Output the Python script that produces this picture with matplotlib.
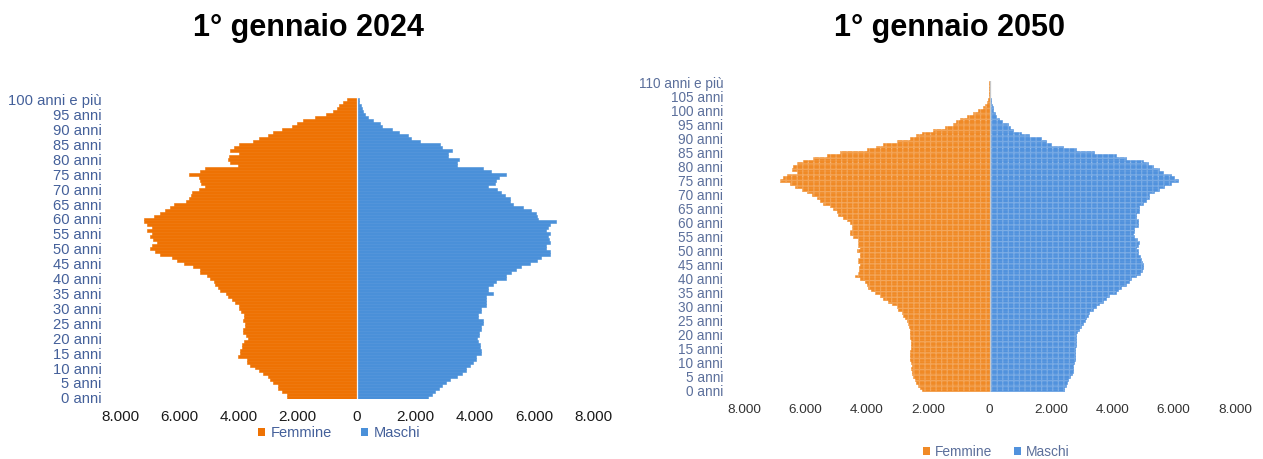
import matplotlib
matplotlib.use("Agg")
import matplotlib.pyplot as plt
import numpy as np
from matplotlib.patches import Patch

plt.rcParams["font.family"] = ["Liberation Sans", "DejaVu Sans"]
plt.rcParams["hatch.linewidth"] = 0.9

# ---- 1 gennaio 2024: età 0 .. 100 e più ----
eta_2024 = list(range(0, 101))
femmine_2024 = [
    2340, 2360, 2530, 2640, 2640, 2810, 2920, 3000, 3150, 3300,
    3430, 3600, 3710, 3710, 4025, 3935, 3935, 3880, 3880, 3800,
    3655, 3750, 3845, 3845, 3765, 3765, 3825, 3800, 3800, 3900,
    3990, 3990, 4105, 4215, 4330, 4410, 4610, 4700, 4780, 4835,
    4950, 5060, 5290, 5290, 5535, 5850, 6075, 6245, 6640, 6805,
    6975, 6920, 6750, 6900, 6975, 6920, 7090, 6920, 7090, 7180,
    7180, 6860, 6640, 6470, 6300, 6190, 5760, 5650, 5600, 5570,
    5340, 5120, 5250, 5290, 5340, 5680, 5290, 5120, 4000, 4270,
    4360, 4300, 3960, 4270, 4160, 3960, 3485, 3300, 2980, 2810,
    2530, 2190, 2000, 1800, 1400, 1030, 805, 670, 580, 445,
    330,
]
maschi_2024 = [
    2427, 2539, 2652, 2798, 2877, 3023, 3158, 3384, 3553, 3699,
    3699, 3834, 3947, 4037, 4037, 4228, 4228, 4172, 4172, 4116,
    4060, 4150, 4150, 4228, 4228, 4285, 4285, 4116, 4116, 4228,
    4228, 4375, 4375, 4397, 4397, 4623, 4454, 4454, 4623, 4735,
    5050, 5072, 5241, 5388, 5579, 5861, 6120, 6255, 6559, 6559,
    6424, 6424, 6536, 6500, 6480, 6536, 6424, 6480, 6560, 6762,
    6143, 6110, 6086, 5917, 5636, 5298, 5185, 5208, 5016, 4900,
    4757, 4454, 4679, 4735, 4825, 5050, 4566, 4285, 3384, 3384,
    3474, 3102, 3102, 3215, 2877, 2821, 2145, 1830, 1751, 1447,
    1188, 873, 794, 569, 377, 287, 231, 186, 141, 96,
    80,
]

# ---- 1 gennaio 2050: età 0 .. 110 e più ----
eta_2050 = list(range(0, 111))
femmine_2050 = [
    2209, 2250, 2319, 2400, 2426, 2480, 2534, 2534, 2550, 2534,
    2560, 2589, 2589, 2589, 2589, 2567, 2567, 2567, 2567, 2580,
    2589, 2589, 2589, 2620, 2645, 2700, 2760, 2807, 2860, 2970,
    3023, 3186, 3296, 3458, 3566, 3729, 3850, 3947, 4000, 4055,
    4218, 4381, 4300, 4240, 4240, 4218, 4272, 4272, 4218, 4218,
    4305, 4218, 4272, 4272, 4300, 4435, 4543, 4543, 4489, 4489,
    4543, 4652, 4761, 4924, 4978, 5100, 5195, 5412, 5521, 5629,
    5800, 5955, 6118, 6335, 6498, 6823, 6715, 6606, 6281, 6444,
    6390, 6281, 6064, 5738, 5303, 4869, 4000, 3700, 3458, 3023,
    2589, 2400, 2209, 1829, 1449, 1178, 1100, 961, 744, 527,
    364, 200, 140, 92, 55, 30, 15, 8, 4, 2,
    3,
]
maschi_2050 = [
    2443, 2443, 2480, 2519, 2570, 2627, 2680, 2736, 2736, 2736,
    2750, 2780, 2801, 2801, 2801, 2801, 2810, 2823, 2823, 2823,
    2823, 2860, 2931, 2980, 3040, 3100, 3148, 3200, 3257, 3370,
    3474, 3580, 3691, 3800, 3908, 4125, 4200, 4288, 4451, 4530,
    4614, 4777, 4900, 4972, 4994, 4994, 4960, 4940, 4900, 4831,
    4831, 4777, 4850, 4886, 4800, 4700, 4669, 4700, 4723, 4831,
    4831, 4850, 4777, 4777, 4886, 4886, 4886, 4994, 5103, 5211,
    5211, 5374, 5537, 5700, 5917, 6150, 6000, 5917, 5646, 5537,
    5320, 5150, 4994, 4451, 4125, 3420, 2823, 2389, 2008, 1850,
    1683, 1303, 1031, 760, 680, 597, 413, 304, 217, 180,
    130, 110, 87, 60, 33, 15, 8, 5, 3, 2,
    2,
]

valori_x = [-8000, -6000, -4000, -2000, 0, 2000, 4000, 6000, 8000]
etichette_x = ["8.000", "6.000", "4.000", "2.000", "0", "2.000", "4.000", "6.000", "8.000"]


def etichette_eta(eta_max):
    valori = list(range(0, eta_max + 1, 5))
    testi = [f"{v} anni" for v in valori]
    testi[-1] = f"{eta_max} anni e più"
    return valori, testi


def piramide(ax, eta, fem, mas, col_f, col_m, ylab_col, xlab_col,
             ylab_size, xlab_size, ypad, xpad, retino=False, asse_col="white"):
    eta = np.asarray(eta)
    f = -np.asarray(fem, dtype=float)
    m = np.asarray(mas, dtype=float)
    ax.barh(eta, f, height=1.0, color=col_f, edgecolor=col_f, linewidth=0.4)
    ax.barh(eta, m, height=1.0, color=col_m, edgecolor=col_m, linewidth=0.4)
    if retino:
        # fine crosshatch texture over the filled areas
        ax.barh(eta, f, height=1.0, facecolor="none",
                edgecolor=(1, 1, 1, 0.22), linewidth=0, hatch="+++")
        ax.barh(eta, m, height=1.0, facecolor="none",
                edgecolor=(1, 1, 1, 0.22), linewidth=0, hatch="+++")
    ax.axvline(0, color=asse_col, lw=0.9, zorder=5)
    ax.set_xlim(-8000, 8000)
    ax.set_ylim(eta[0] - 0.5, eta[-1] + 0.5)
    yv, yt = etichette_eta(int(eta[-1]))
    ax.set_yticks(yv)
    ax.set_yticklabels(yt, color=ylab_col, fontsize=ylab_size)
    ax.set_xticks(valori_x)
    ax.set_xticklabels(etichette_x, color=xlab_col, fontsize=xlab_size)
    ax.tick_params(axis="y", length=0, pad=ypad)
    ax.tick_params(axis="x", length=0, pad=xpad)
    for s in ax.spines.values():
        s.set_visible(False)


fig = plt.figure(figsize=(12.63, 4.59), dpi=100)
W, H = 1263.0, 459.0

# left pyramid
ax1 = fig.add_axes([120 / W, (H - 399.3) / H, 473 / W, 301 / H])
piramide(ax1, eta_2024, femmine_2024, maschi_2024, "#EE7203", "#4A90D9",
         "#44609A", "#1A1A1A", 10.6, 11, 13.2, 8, asse_col="#F2F6FB")

# right pyramid
ax2 = fig.add_axes([744 / W, (H - 392.1) / H, 491 / W, 310.8 / H])
piramide(ax2, eta_2050, femmine_2050, maschi_2050, "#F08A26", "#5192DD",
         "#5B6F9B", "#333333", 9.8, 9.7, 15, 8.3, retino=True, asse_col="#C8C8C8")

# titles
fig.text(308 / W, 1 - 36 / H, "1° gennaio 2024", ha="center", va="baseline",
         fontsize=22, fontweight="bold", color="black")
fig.text(950 / W, 1 - 36 / H, "1° gennaio 2050", ha="center", va="baseline",
         fontsize=22, fontweight="bold", color="black")

# legends
h1 = [Patch(facecolor="#EE7203"), Patch(facecolor="#4A90D9")]
leg1 = fig.legend(h1, ["Femmine", "Maschi"], loc="center",
                  bbox_to_anchor=(339 / W, 1 - 433 / H), ncol=2, frameon=False,
                  fontsize=10.5, handlelength=0.5, handleheight=0.5,
                  handletextpad=0.35, columnspacing=2.0, labelcolor="#44609A")

h2 = [Patch(facecolor="#F08A26"), Patch(facecolor="#5192DD")]
leg2 = fig.legend(h2, ["Femmine", "Maschi"], loc="center",
                  bbox_to_anchor=(996 / W, 1 - 452 / H), ncol=2, frameon=False,
                  fontsize=9.9, handlelength=0.5, handleheight=0.5,
                  handletextpad=0.35, columnspacing=1.6, labelcolor="#5B6F9B")

fig.savefig("out.png", dpi=100, facecolor="white")
